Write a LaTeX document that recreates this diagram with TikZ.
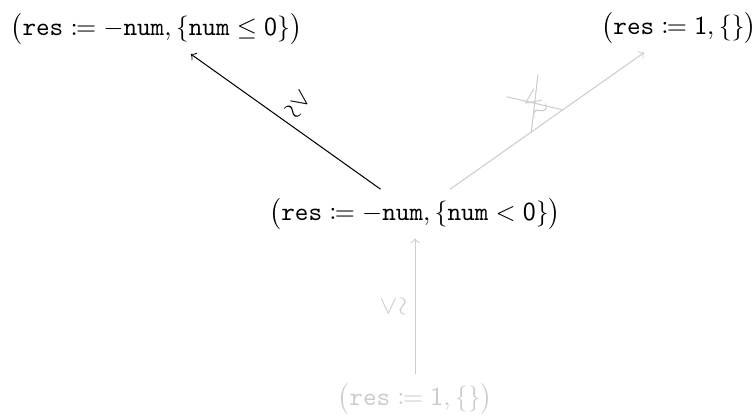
\documentclass[tikz,border=0pt]{standalone}
\usepackage{amsmath,amssymb,mathtools}
\usetikzlibrary{shapes.misc}
\definecolor{stgrey}{gray}{0.8}
\newcommand{\tv}[1]{\texttt{#1}}
\tikzset{
  state/.style={inner sep=3.3pt},
  dimmed/.style={text=stgrey},
  flow/.style={->},
  dimflow/.style={->,draw=stgrey},
  rel/.style={midway,sloped,above},
  norel/.style={rel,draw=stgrey,text=stgrey,cross out},
}

\begin{document}
\begin{tikzpicture}
  \useasboundingbox (-5.63,-2.73) rectangle (4.61,2.90);
  \node[state] (mid) at (0,0)
    {$\bigl(\tv{res} \coloneqq -\tv{num}, \{\tv{num} < \mathsf{0}\}\bigr)$};
  \node[state] (weak) at (-3.51,2.50)
    {$\bigl(\tv{res} \coloneqq -\tv{num}, \{\tv{num} \leq \mathsf{0}\}\bigr)$};
  \node[state] (one) at (3.58,2.52)
    {$\bigl(\tv{res} \coloneqq \mathsf{1}, \{\}\bigr)$};
  \node[state,dimmed] (start) at (0,-2.51)
    {$\bigl(\tv{res} \coloneqq \mathsf{1}, \{\}\bigr)$};

  % refinement steps
  \draw[dimflow] (start) -- (mid) node[rel,text=stgrey] {$\lesssim$};
  \draw[flow] (mid) -- (weak) node[rel] {$\gtrsim$};
  \draw[dimflow] (mid) -- (one) node[norel] {$\lesssim$};
\end{tikzpicture}
\end{document}
